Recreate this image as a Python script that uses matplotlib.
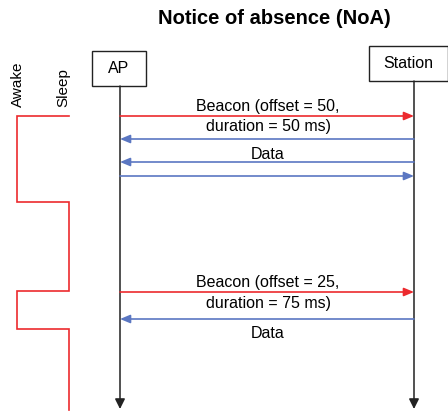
import matplotlib.pyplot as plt

plt.rcParams['font.family'] = ['Liberation Sans', 'DejaVu Sans']

#Colors
red = '#ec2a2e'
blue = '#5b77c2'
dark = '#222222'

#Participants (label, lifeline x, box)
participants = ['AP', 'Station']
lifelineX = [120, 414]
boxes = [(92, 51, 54, 35), (369, 46, 79, 35)]

#Messages: time (y), from, to, color
msgTimes = [116, 139, 162, 176, 292, 319]
msgFrom = [0, 1, 1, 0, 0, 1]
msgTo = [1, 0, 0, 1, 1, 0]
msgColors = [red, blue, blue, blue, red, blue]

#Message labels (text, y)
labelTexts = ['Beacon (offset = 50,', 'duration = 50 ms)', 'Data',
              'Beacon (offset = 25,', 'duration = 75 ms)', 'Data']
labelTimes = [106, 126, 154, 282, 303, 333]

#Power state: starts asleep, switches at each time, ends at endTime
startState = 'sleep'
switchTimes = [116, 202, 291, 329]
switchStates = ['awake', 'sleep', 'awake', 'sleep']
endTime = 410
stateX = {'awake': 17, 'sleep': 69}

fig = plt.figure(figsize=(4.48, 4.11), dpi=100)
ax = fig.add_axes([0, 0, 1, 1])
ax.set_xlim(0, 448)
ax.set_ylim(411, 0)
ax.axis('off')

#Title
ax.text(274, 18, 'Notice of absence (NoA)', fontsize=14.5, fontweight='bold',
        ha='center', va='center')

#Boxes and lifelines
for name, x, (bx, by, bw, bh) in zip(participants, lifelineX, boxes):
    ax.add_patch(plt.Rectangle((bx, by), bw, bh, facecolor='white',
                               edgecolor=dark, lw=1))
    ax.text(bx + bw / 2, by + bh / 2, name, fontsize=11.5,
            ha='center', va='center')
    ax.annotate('', xy=(x, 409), xytext=(x, by + bh),
                arrowprops=dict(arrowstyle='-|>,head_length=0.6,head_width=0.3',
                                color=dark, lw=1.1, shrinkA=0, shrinkB=0))

#Messages
for t, a, b, c in zip(msgTimes, msgFrom, msgTo, msgColors):
    ax.annotate('', xy=(lifelineX[b], t), xytext=(lifelineX[a], t),
                arrowprops=dict(arrowstyle='-|>,head_length=0.6,head_width=0.25',
                                color=c, lw=1.2, shrinkA=0, shrinkB=0))

for txt, t in zip(labelTexts, labelTimes):
    ax.text(268, t, txt, fontsize=11.5, ha='center', va='center')

#Awake / sleep step line
xs = [stateX[startState]]
ys = [switchTimes[0]]
prev = startState
for t, s in zip(switchTimes, switchStates):
    xs += [stateX[prev], stateX[s]]
    ys += [t, t]
    prev = s
xs.append(stateX[prev])
ys.append(endTime)
ax.plot(xs, ys, color=red, lw=1.2, solid_joinstyle='miter')

ax.text(18, 107, 'Awake', fontsize=11, rotation=90, rotation_mode='anchor',
        ha='left', va='center')
ax.text(63, 107, 'Sleep', fontsize=11, rotation=90, rotation_mode='anchor',
        ha='left', va='center')

plt.savefig('out.png', dpi=100)
